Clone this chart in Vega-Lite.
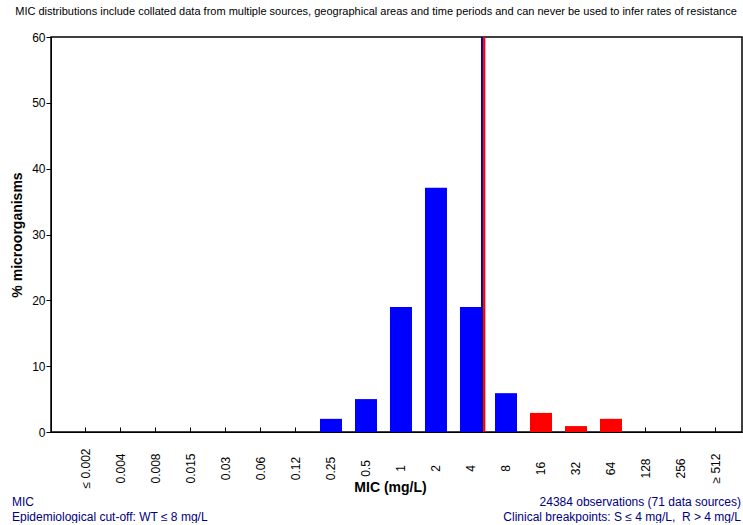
{
  "$schema": "https://vega.github.io/schema/vega-lite/v6.json",
  "background": "white",
  "padding": {"left": 9, "top": 6, "right": 0, "bottom": 0},
  "title": {
    "text": "MIC distributions include collated data from multiple sources, geographical areas and time periods and can never be used to infer rates of resistance",
    "font": "Liberation Sans",
    "fontSize": 11,
    "fontWeight": "normal",
    "color": "black",
    "anchor": "middle",
    "frame": "bounds",
    "offset": 13
  },
  "config": {
    "font": "Liberation Sans",
    "view": {"stroke": "black", "strokeWidth": 1.5},
    "axis": {
      "grid": false,
      "domainColor": "black",
      "tickColor": "black",
      "labelColor": "black",
      "titleColor": "black",
      "labelFont": "Liberation Sans",
      "titleFont": "Liberation Sans"
    }
  },
  "bounds": "flush",
  "spacing": 64,
  "vconcat": [
    {
      "width": 691,
      "height": 395,
      "data": {
        "values": [
          {"mic": "≤ 0.002", "pct": 0, "group": "WT"},
          {"mic": "0.004", "pct": 0, "group": "WT"},
          {"mic": "0.008", "pct": 0, "group": "WT"},
          {"mic": "0.015", "pct": 0, "group": "WT"},
          {"mic": "0.03", "pct": 0, "group": "WT"},
          {"mic": "0.06", "pct": 0, "group": "WT"},
          {"mic": "0.12", "pct": 0, "group": "WT"},
          {"mic": "0.25", "pct": 2.0, "group": "WT"},
          {"mic": "0.5", "pct": 5.0, "group": "WT"},
          {"mic": "1", "pct": 19.0, "group": "WT"},
          {"mic": "2", "pct": 37.1, "group": "WT"},
          {"mic": "4", "pct": 19.0, "group": "WT"},
          {"mic": "8", "pct": 5.9, "group": "WT"},
          {"mic": "16", "pct": 2.9, "group": "non-WT"},
          {"mic": "32", "pct": 0.9, "group": "non-WT"},
          {"mic": "64", "pct": 2.0, "group": "non-WT"},
          {"mic": "128", "pct": 0, "group": "non-WT"},
          {"mic": "256", "pct": 0, "group": "non-WT"},
          {"mic": "≥ 512", "pct": 0, "group": "non-WT"}
        ]
      },
      "layer": [
        {
          "mark": {"type": "bar"},
          "encoding": {
            "x": {
              "field": "mic",
              "type": "ordinal",
              "scale": {
                "domain": ["≤ 0.002", "0.004", "0.008", "0.015", "0.03", "0.06", "0.12", "0.25", "0.5", "1", "2", "4", "8", "16", "32", "64", "128", "256", "≥ 512"],
                "paddingInner": 0.3714,
                "paddingOuter": 0.557,
                "align": 0.615
              },
              "axis": {
                "title": "MIC (mg/L)",
                "titleFontSize": 14,
                "titleFontWeight": "bold",
                "titleX": 339,
                "titleY": 55,
                "titleBaseline": "middle",
                "labelAngle": 270,
                "labelAlign": "center",
                "labelBaseline": "middle",
                "labelFontSize": 12,
                "labelPadding": 41,
                "labelOverlap": false,
                "tickSize": -5
              }
            },
            "y": {
              "field": "pct",
              "type": "quantitative",
              "scale": {"domain": [0, 60], "nice": false},
              "axis": {
                "title": "% microorganisms",
                "titleFontSize": 14,
                "titleFontWeight": "bold",
                "titleX": -34,
                "titleBaseline": "middle",
                "values": [0, 10, 20, 30, 40, 50, 60],
                "labelFontSize": 12,
                "labelPadding": 1,
                "tickSize": 5
              }
            },
            "color": {
              "field": "group",
              "type": "nominal",
              "scale": {"domain": ["WT", "non-WT"], "range": ["#0000FF", "#FF0000"]},
              "legend": null
            }
          }
        },
        {
          "data": {"values": [{"mic": "4"}]},
          "mark": {"type": "rule", "color": "#0000B0", "strokeWidth": 2},
          "encoding": {
            "x": {"field": "mic", "type": "ordinal", "bandPosition": 1}
          }
        },
        {
          "data": {"values": [{"mic": "4"}]},
          "mark": {"type": "rule", "color": "#FF0000", "strokeWidth": 2.3},
          "encoding": {
            "x": {"field": "mic", "type": "ordinal", "bandPosition": 1.1}
          }
        }
      ]
    },
    {
      "spacing": 11,
      "bounds": "flush",
      "hconcat": [
        {
          "width": 340,
          "height": 1,
          "view": {"stroke": null},
          "data": {"values": []},
          "mark": {"type": "text"},
          "title": {
            "text": ["MIC", "Epidemiological cut-off: WT ≤ 8 mg/L"],
            "orient": "bottom",
            "anchor": "start",
            "frame": "group",
            "baseline": "top",
            "offset": 0,
            "dx": -39,
            "font": "Liberation Sans",
            "fontSize": 12,
            "fontWeight": "normal",
            "lineHeight": 15,
            "color": "#000080"
          }
        },
        {
          "width": 340,
          "height": 1,
          "view": {"stroke": null},
          "data": {"values": []},
          "mark": {"type": "text"},
          "title": {
            "text": ["24384 observations (71 data sources)", "Clinical breakpoints: S ≤ 4 mg/L, \u00a0R > 4 mg/L"],
            "orient": "bottom",
            "anchor": "end",
            "frame": "group",
            "baseline": "top",
            "offset": 0,
            "dx": -1,
            "font": "Liberation Sans",
            "fontSize": 12,
            "fontWeight": "normal",
            "lineHeight": 15,
            "color": "#000080"
          }
        }
      ]
    }
  ]
}
